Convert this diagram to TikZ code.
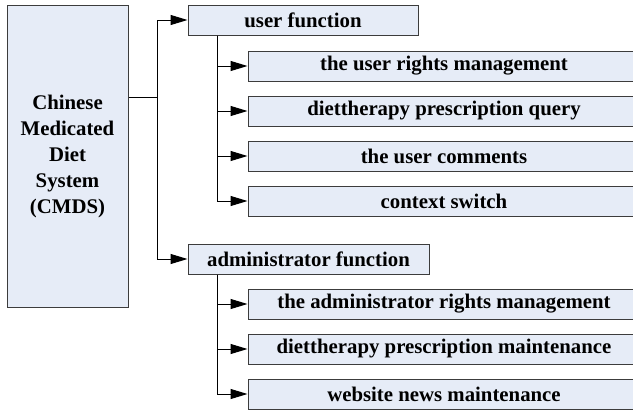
\documentclass[tikz,border=0pt]{standalone}
\usepackage{fontspec}
\setmainfont{Liberation Serif}
\usetikzlibrary{arrows.meta}
\definecolor{boxfill}{RGB}{230,236,247}
\definecolor{boxline}{RGB}{60,60,60}
\tikzset{
  box/.style={draw=boxline, fill=boxfill, line width=1pt, inner sep=0pt,
    minimum height=30pt, font=\fontsize{20.8}{26}\selectfont\bfseries},
  child/.style={box, minimum width=392pt},
  conn/.style={draw=black, line width=1pt},
  arr/.style={conn, -{Triangle[length=17pt,width=10pt]}}
}
\begin{document}
\begin{tikzpicture}[x=1pt,y=-1pt]
\clip (0,0) rectangle (633,410);
\fill[white] (0,0) rectangle (633,410);
\node[box, minimum width=121pt, minimum height=302pt, align=center] (main) at (67.5,156)
  {Chinese\\Medicated\\Diet\\System\\(CMDS)};
\node[box, minimum width=230pt] (uf) at (303,20) {user function};
\node[box, minimum width=241pt] (af) at (308.5,259) {administrator function};
\node[child] (u1) at (444,66) {the user rights management};
\node[child] (u2) at (444,111) {diettherapy prescription query};
\node[child] (u3) at (444,156) {the user comments};
\node[child] (u4) at (444,201) {context switch};
\node[child] (a1) at (444,304) {the administrator rights management};
\node[child] (a2) at (444,349) {diettherapy prescription maintenance};
\node[child] (a3) at (444,394) {website news maintenance};
\coordinate (j) at (157,97);
\coordinate (ut) at ([xshift=30pt]uf.south west);
\coordinate (at) at ([xshift=30pt]af.south west);
\draw[conn] (main.east |- j) -- (j);
\draw[arr] (j) |- (uf.west);
\draw[arr] (j) |- (af.west);
\foreach \c in {u1,u2,u3,u4} \draw[arr] (ut) |- (\c.west);
\foreach \c in {a1,a2,a3} \draw[arr] (at) |- (\c.west);
\end{tikzpicture}
\end{document}
